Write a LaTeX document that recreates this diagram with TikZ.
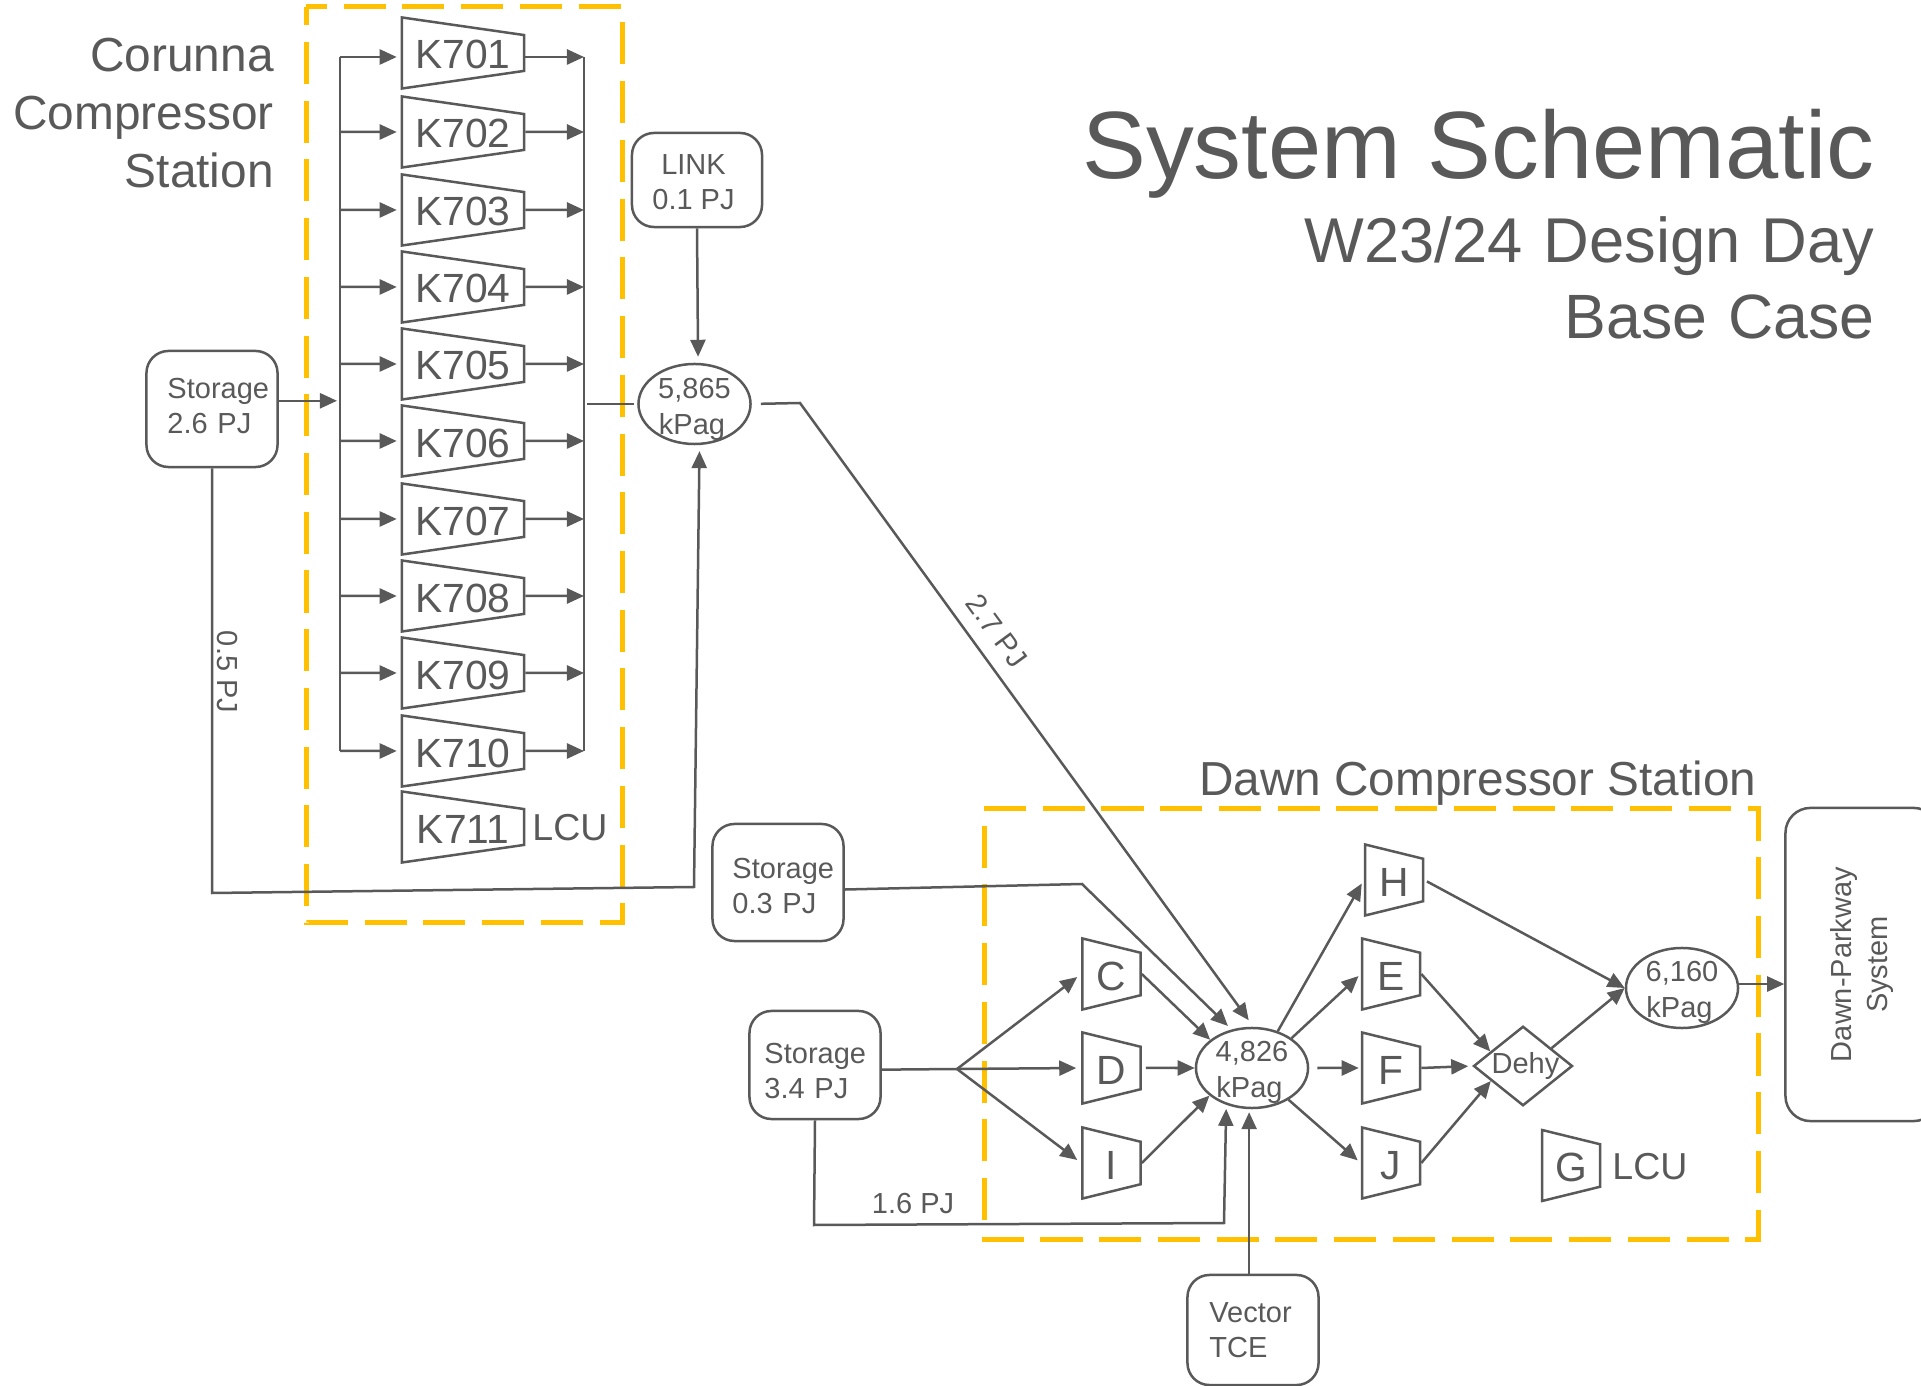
\documentclass[tikz,border=0pt]{standalone}
\usepackage{fontspec}
\setmainfont{Liberation Sans}
\newfontfamily\titlefont[WordSpace=1.2]{Liberation Sans}
\usetikzlibrary{arrows.meta,shapes.geometric}
\definecolor{ink}{HTML}{595959}
\definecolor{amber}{HTML}{FFC000}
\tikzset{
  flow/.style={draw=ink,line width=0.025cm,-{Triangle[length=0.17cm,width=0.15cm]}},
  line/.style={draw=ink,line width=0.025cm},
  station/.style={draw=amber,line width=0.05cm,dash pattern=on 0.42cm off 0.167cm},
  small/.style={text=ink,font=\fontsize{8.25}{10}\selectfont,inner sep=0},
  mid/.style={text=ink,font=\fontsize{10.67}{12}\selectfont,inner sep=0},
  large/.style={text=ink,font=\fontsize{13.6}{16.5}\selectfont,inner sep=0},
  store/.style={small,draw=ink,line width=0.025cm,rounded corners=0.22cm,inner xsep=#1,
    inner ysep=0,text width=1.31cm-2*#1,align=left},
  press/.style={small,draw=ink,line width=0.025cm,ellipse,inner sep=-0.1cm,
    minimum width=1.12cm,minimum height=0.8cm,align=center},
  comp/.style={text=ink,font=\fontsize{11.6}{13}\selectfont,draw=ink,line width=0.025cm,
    trapezium,shape border rotate=270,trapezium stretches body=true,inner sep=0,
    text width=1.22cm,align=center,text height=0.32cm,text depth=0cm,
    trapezium left angle=81.8,trapezium right angle=81.8,
    minimum width=0.71cm,minimum height=1.22cm},
  unit/.style={comp,trapezium left angle=76.2,trapezium right angle=76.2,
    text width=0.58cm,minimum width=0.71cm,minimum height=0.58cm}
}
\begin{document}
\begin{tikzpicture}[x=0.01cm,y=-0.01cm]
\useasboundingbox (0,0) rectangle (1921,1386);

\draw[station,dash phase=0.21cm] (306,7)--(622,7)--(622,923)--(306,923)--cycle;
\draw[station] (984,809)--(1758,809)--(1758,1239)--(984,1239)--cycle;

\node (title) [text=ink,font=\fontsize{27.2}{30}\selectfont,anchor=base east,inner sep=0] at (1875,179) {System Schematic};
\node (case) [text=ink,font=\titlefont\fontsize{18}{20}\selectfont,anchor=base east,inner sep=0] at (1875,263) {W23/24 Design Day};
\node (base) [text=ink,font=\titlefont\fontsize{17.8}{20}\selectfont,anchor=base east,inner sep=0] at (1875,339) {Base Case};
\node (corunna) [large,align=right,anchor=east] at (274.5,113.5) {Corunna\\Compressor\\Station};
\node (dawn) [large,font=\fontsize{13.57}{16}\selectfont,anchor=base east] at (1757,796) {Dawn Compressor Station};

\node (k701) [comp] at (463,53) {K701};
\node (k702) [comp] at (463,132) {K702};
\node (k703) [comp] at (463,210) {K703};
\node (k704) [comp] at (463,287) {K704};
\node (k705) [comp] at (463,364) {K705};
\node (k706) [comp] at (463,441) {K706};
\node (k707) [comp] at (463,519) {K707};
\node (k708) [comp] at (463,596) {K708};
\node (k709) [comp] at (463,673) {K709};
\node (k710) [comp] at (463,751) {K710};
\node (k711) [comp] at (463,827) {K711};
\node (lcu1) [mid] at (570,828) {LCU};

\node (st26) [store=0.21cm,minimum height=1.16cm] at (212,409) {Storage\\2.6 PJ\rule[-0.06cm]{0pt}{0pt}};
\node (link) [small,draw=ink,line width=0.025cm,rounded corners=0.22cm,align=center,minimum width=1.3cm,minimum height=0.94cm] at (697,180) {\rule{0pt}{0.24cm}LINK\hspace*{0.07cm}\\0.1 PJ\hspace*{0.07cm}};
\node (p5865) [press] at (694.5,404) {\rule{0pt}{0.31cm}5,865\\kPag\hspace*{0.05cm}};
\node (st03) [store=0.2cm,minimum height=1.17cm] at (778,882.5) {\rule{0pt}{0.27cm}Storage\\0.3 PJ};
\node (st34) [store=0.15cm,minimum height=1.08cm] at (815,1065) {\rule{0pt}{0.33cm}Storage\\3.4 PJ};
\node (vector) [store=0.22cm,minimum height=1.1cm] at (1253,1330) {Vector\\TCE};
\node (p4826) [press] at (1252,1068) {\rule{0pt}{0.29cm}4,826\\kPag\hspace*{0.05cm}};
\node (p6160) [press] at (1682,988) {\rule{0pt}{0.29cm}6,160\\kPag\hspace*{0.05cm}};
\node (dehy) [small,draw=ink,line width=0.025cm,diamond,inner sep=-0.2cm,minimum width=0.99cm,minimum height=0.795cm] at (1523,1066) {\hspace*{0.05cm}Dehy};
\node (system) [small,draw=ink,line width=0.025cm,rounded corners=0.25cm,rotate=90,align=center,minimum width=3.13cm,minimum height=1.53cm] at (1862,964.5) {Dawn-Parkway\\System};

\node (kc) [unit] at (1111.5,974) {C};
\node (kd) [unit] at (1111.5,1068) {D};
\node (ki) [unit] at (1111.5,1163) {I};
\node (kh) [unit] at (1394,880) {H};
\node (ke) [unit] at (1391,974) {E};
\node (kf) [unit] at (1391,1068) {F};
\node (kj) [unit] at (1391,1163) {J};
\node (kg) [unit] at (1571,1165.5) {G};
\node (lcu2) [mid] at (1650,1166.5) {LCU};

\node (l05) [small,rotate=-90] at (227.5,672) {0.5 PJ};
\node (l27) [small,rotate=-53.7] at (997,631) {2.7 PJ};
\node (l16) [small] at (913,1204) {1.6 PJ};

\coordinate (lbus) at (340,57);
\coordinate (rbus) at (584,57);
\coordinate (bend05a) at (212,893);
\coordinate (bend05b) at (694,887);
\coordinate (bend27) at (800,403);
\coordinate (bend03) at (1082,884);
\coordinate (split) at (957,1069);
\coordinate (bend16a) at (814,1225);
\coordinate (bend16b) at (1224,1223);

\draw[line] (lbus)--(lbus |- k710);
\draw[line] (rbus)--(rbus |- k710);
\draw[flow,shorten >=0.03cm] (st26.7)--(lbus |- st26.7);
\draw[line,shorten <=0.03cm,shorten >=0.03cm] (rbus |- p5865)--(p5865.west);

\draw[flow,shorten >=0.04cm] (lbus)--(lbus -| k701.west);
\draw[flow,shorten >=0.04cm] (lbus |- k702)--(k702.west);
\draw[flow,shorten >=0.04cm] (lbus |- k703)--(k703.west);
\draw[flow,shorten >=0.04cm] (lbus |- k704)--(k704.west);
\draw[flow,shorten >=0.04cm] (lbus |- k705)--(k705.west);
\draw[flow,shorten >=0.04cm] (lbus |- k706)--(k706.west);
\draw[flow,shorten >=0.04cm] (lbus |- k707)--(k707.west);
\draw[flow,shorten >=0.04cm] (lbus |- k708)--(k708.west);
\draw[flow,shorten >=0.04cm] (lbus |- k709)--(k709.west);
\draw[flow,shorten >=0.04cm] (lbus |- k710)--(k710.west);

\draw[flow] (rbus -| k701.east)--(rbus);
\draw[flow] (k702.east)--(rbus |- k702);
\draw[flow] (k703.east)--(rbus |- k703);
\draw[flow] (k704.east)--(rbus |- k704);
\draw[flow] (k705.east)--(rbus |- k705);
\draw[flow] (k706.east)--(rbus |- k706);
\draw[flow] (k707.east)--(rbus |- k707);
\draw[flow] (k708.east)--(rbus |- k708);
\draw[flow] (k709.east)--(rbus |- k709);
\draw[flow] (k710.east)--(rbus |- k710);

\draw[flow,shorten >=0.06cm] (link.south)--(p5865.85);
\draw[flow,shorten >=0.06cm] (st26.south)--(bend05a)--(bend05b)--(p5865.277);
\draw[flow,shorten <=0.09cm,shorten >=0.08cm] (p5865.east)--(bend27)--(p4826.88);
\draw[flow,shorten >=0.05cm] (st03.-6)--(bend03)--(p4826.118);

\draw[line] (st34.-4)--(split);
\draw[flow,shorten >=0.05cm] (split)--(kc.west);
\draw[flow,shorten >=0.05cm] (split)--(kd.west);
\draw[flow,shorten >=0.05cm] (split)--(ki.west);
\draw[flow,shorten >=0.04cm] (st34.south)--(bend16a)--(bend16b)--(p4826.235);
\draw[flow,shorten >=0.03cm] (p4826.266 |- vector.north)--(p4826.266);

\draw[flow] (kc.east)--(p4826.146);
\draw[flow,shorten <=0.04cm] (kd.east)--(p4826.west);
\draw[flow] (ki.east)--(p4826.213);

\draw[flow,shorten >=0.04cm] (p4826.55)--(kh.west);
\draw[flow,shorten >=0.03cm] (p4826.37)--(ke.west);
\draw[flow,shorten <=0.08cm,shorten >=0.02cm] (p4826.east)--(kf.west);
\draw[flow,shorten >=0.04cm] (p4826.-41)--(kj.west);

\draw[flow,shorten <=0.03cm] (kh.east)--(p6160.west);
\draw[flow] (ke.east)--(dehy.156);
\draw[flow,shorten >=0.04cm] (kf.east)--(dehy.west);
\draw[flow] (kj.east)--(dehy.205);
\draw[flow] (dehy.32)--(p6160.west);
\draw[flow] (p6160.4)--(p6160.4 -| system.north);
\end{tikzpicture}
\end{document}
